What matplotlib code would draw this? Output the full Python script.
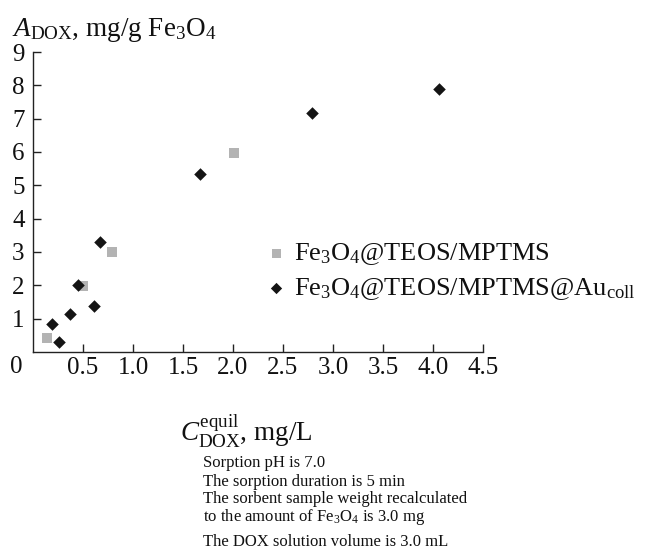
import matplotlib
matplotlib.use("Agg")
import matplotlib.pyplot as plt

plt.rcParams['font.family'] = ['Liberation Serif', 'DejaVu Serif']
plt.rcParams['mathtext.fontset'] = 'custom'
plt.rcParams['mathtext.rm'] = 'Liberation Serif'
plt.rcParams['mathtext.it'] = 'Liberation Serif:italic'
plt.rcParams['mathtext.bf'] = 'Liberation Serif:bold'

# Data
mptms_x = [0.14, 0.50, 0.79, 2.01]
mptms_y = [0.41, 1.98, 3.00, 5.98]
au_x = [0.19, 0.26, 0.37, 0.45, 0.61, 0.67, 1.67, 2.79, 4.06]
au_y = [0.83, 0.30, 1.13, 2.02, 1.39, 3.31, 5.34, 7.16, 7.89]
xticks = [0.5, 1.0, 1.5, 2.0, 2.5, 3.0, 3.5, 4.0, 4.5]
xticklabels = ['0.5', '1.0', '1.5', '2.0', '2.5', '3.0', '3.5', '4.0', '4.5']
yticks = [1, 2, 3, 4, 5, 6, 7, 8, 9]
labels = [r'Fe$_3$O$_4$@TEOS/MPTMS', r'Fe$_3$O$_4$@TEOS/MPTMS@Au$_{\mathrm{coll}}$']
notes = ['Sorption pH is 7.0',
         'The sorption duration is 5 min',
         'The sorbent sample weight recalculated',
         r'to the amount of Fe$_3$O$_4$ is 3.0 mg',
         'The DOX solution volume is 3.0 mL']

W, H = 647, 550
fig = plt.figure(figsize=(W / 100, H / 100), dpi=100)
x0, x1, yb, yt = 33, 483, 352, 52
ax = fig.add_axes([x0 / W, (H - yb) / H, (x1 - x0) / W, (yb - yt) / H])

ax.scatter(mptms_x, mptms_y, marker='s', s=7.2**2, color='#b3b3b3', linewidths=0,
           label=labels[0], zorder=2)
ax.scatter(au_x, au_y, marker='D', s=6.4**2, color='#141414', linewidths=0,
           label=labels[1], zorder=3)

ax.set_xlim(0, 4.5)
ax.set_ylim(0, 9)
for s in ['top', 'right']:
    ax.spines[s].set_visible(False)
for s in ['left', 'bottom']:
    ax.spines[s].set_linewidth(1.0)
    ax.spines[s].set_color('#222222')
ax.set_xticks(xticks)
ax.set_xticklabels(xticklabels)
ax.set_yticks(yticks)
ax.tick_params(direction='in', length=6, width=1.0, colors='#222222',
               labelsize=18, labelcolor='#111111')
ax.tick_params(axis='x', pad=3.5)
ax.tick_params(axis='y', pad=6)

fig.text(16 / W, 1 - 367 / H, '0', fontsize=18, ha='center', va='center', color='#111111')

fig.text(12 / W, 1 - 36 / H, r'$\mathit{A}_{\mathrm{DOX}}$, mg/g Fe$_3$O$_4$',
         fontsize=19.5, ha='left', va='baseline', color='#111111')
fig.text(180 / W, 1 - 441 / H, r'$\mathit{C}_{\mathrm{DOX}}^{\mathrm{equil}}$, mg/L',
         fontsize=19.5, ha='left', va='baseline', color='#111111')

leg = ax.legend(loc='upper left', bbox_to_anchor=(268 / W, 1 - 241 / H),
                bbox_transform=fig.transFigure, frameon=False, fontsize=19,
                handlelength=0.6, handletextpad=0.4, labelspacing=0.34,
                markerscale=0.9, borderaxespad=0, borderpad=0)
for t in leg.get_texts():
    t.set_color('#111111')

baselines = [467, 486, 503, 521, 546]
for txt, b in zip(notes, baselines):
    fig.text(203 / W, 1 - b / H, txt, fontsize=12, ha='left', va='baseline', color='#111111')

fig.savefig('out.png', dpi=100)
